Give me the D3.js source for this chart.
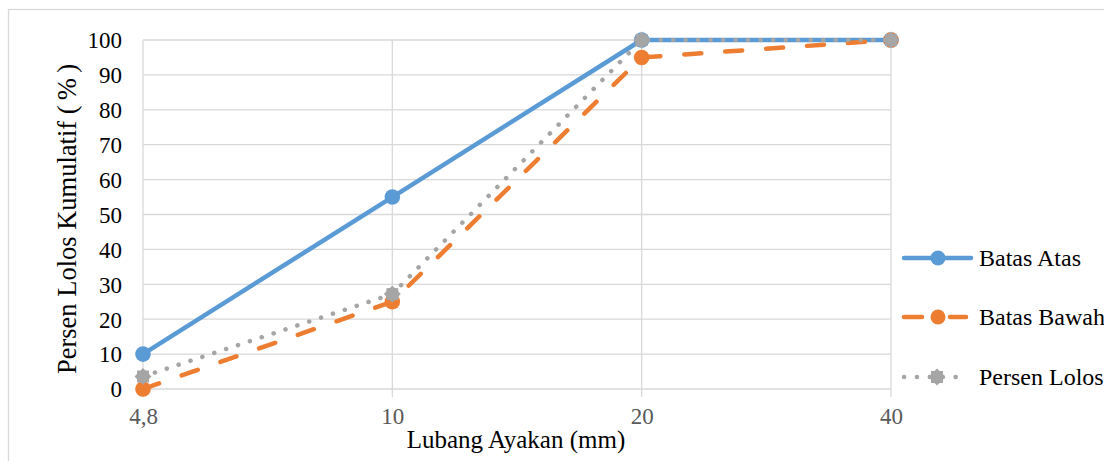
<!DOCTYPE html>
<html><head><meta charset="utf-8">
<script src="https://cdn.jsdelivr.net/npm/d3@7"></script>
<style>body{margin:0;background:#fff}svg{display:block}svg text{font-family:'Liberation Serif','Times New Roman','DejaVu Serif',serif !important}</style>
</head><body><svg id="c" width="1104" height="461"></svg>
<script>
const categories = ["4,8", "10", "20", "40"];
const batasAtas = [10, 55, 100, 100];
const batasBawah = [0, 25, 95, 100];
const persenLolos = [3.6, 27.2, 100, 100];
const yTicks = [0,10,20,30,40,50,60,70,80,90,100];
const seriesNames = ["Batas Atas", "Batas Bawah", "Persen Lolos"];

const svg = d3.select("#c");
svg.append("rect").attr("x",8.5).attr("y",9.5).attr("width",1200).attr("height",600)
  .attr("fill","#fff").attr("stroke","#d9d9d9").attr("stroke-width",1.3);

const x = d3.scalePoint().domain(categories).range([143, 891]);
const y = d3.scaleLinear().domain([0,100]).range([389, 40]);

const g = svg.append("g");
g.selectAll("line.h").data(yTicks).join("line")
  .attr("x1",143).attr("x2",891).attr("y1",d=>y(d)).attr("y2",d=>y(d))
  .attr("stroke","#d9d9d9").attr("stroke-width",1.3);
g.selectAll("line.v").data(categories).join("line")
  .attr("x1",d=>x(d)).attr("x2",d=>x(d)).attr("y1",y(100)).attr("y2",y(0)+8)
  .attr("stroke","#d9d9d9").attr("stroke-width",1.3);

const yAxis = d3.axisLeft(y).tickValues(yTicks).tickSize(0).tickPadding(0);
const ya = svg.append("g").attr("transform","translate(122,0)").call(yAxis);
ya.select(".domain").remove();
ya.selectAll("text").attr("font-size",23).attr("fill","#000").attr("dy","0.34em");

const xAxis = d3.axisBottom(x).tickSize(0).tickPadding(0);
const xa = svg.append("g").attr("transform","translate(0,424)").call(xAxis);
xa.select(".domain").remove();
xa.selectAll("text").attr("font-size",23).attr("fill","#595959").attr("y",0).attr("dy","0");

svg.append("text").attr("x",516).attr("y",448).attr("text-anchor","middle")
  .attr("font-size",25).attr("fill","#000").text("Lubang Ayakan (mm)");
svg.append("text").attr("transform","translate(76,219) rotate(-90)").attr("text-anchor","middle")
  .attr("font-size",26.5).attr("fill","#000").text("Persen Lolos Kumulatif (\u2009%\u2009)");

const line = d3.line().x((d,i)=>x(categories[i])).y(d=>y(d));
const styles = [
  {data: batasAtas, color:"#5b9bd5", dash:null},
  {data: batasBawah, color:"#ed7d31", dash:"17,24"},
  {data: persenLolos, color:"#a5a5a5", dash:"0.1,12.4"}
];
function gear(sel, cx, cy, r, color){
  const pts=[];
  const n=16;
  for(let i=0;i<n;i++){
    const a=i/n*2*Math.PI;
    const rr = i%2? r*0.82 : r*1.05;
    pts.push([cx+rr*Math.cos(a), cy+rr*Math.sin(a)]);
  }
  sel.append("polygon").attr("points",pts.map(p=>p.join(",")).join(" ")).attr("fill",color);
}
styles.forEach(s=>{
  svg.append("path").datum(s.data).attr("d",line).attr("fill","none")
    .attr("stroke",s.color).attr("stroke-width",4.5).attr("stroke-linecap","round")
    .attr("stroke-linejoin","round").attr("stroke-dasharray",s.dash);
  s.data.forEach((v,i)=>{
    if(s.color==="#a5a5a5") gear(svg, x(categories[i]), y(v), 8, s.color);
    else svg.append("circle").attr("cx",x(categories[i])).attr("cy",y(v)).attr("r",7.8).attr("fill",s.color);
  });
});

const ly = [258, 317, 377];
styles.forEach((s,i)=>{
  const lg = svg.append("g");
  if(i===0){
    lg.append("line").attr("x1",904).attr("x2",971).attr("y1",ly[i]).attr("y2",ly[i])
      .attr("stroke",s.color).attr("stroke-width",4.5).attr("stroke-linecap","round");
  } else if(i===1){
    [[904,922],[950,966]].forEach(p=>lg.append("line").attr("x1",p[0]).attr("x2",p[1]).attr("y1",ly[i]).attr("y2",ly[i])
      .attr("stroke",s.color).attr("stroke-width",4.5).attr("stroke-linecap","round"));
  } else {
    lg.append("line").attr("x1",904).attr("x2",968).attr("y1",ly[i]).attr("y2",ly[i])
      .attr("stroke",s.color).attr("stroke-width",4.5).attr("stroke-linecap","round").attr("stroke-dasharray","0.1,12.8");
  }
  if(i===2) gear(lg, 937, ly[i], 8, s.color);
  else lg.append("circle").attr("cx",938).attr("cy",ly[i]).attr("r",7.5).attr("fill",s.color);
  lg.append("text").attr("x",979).attr("y",ly[i]).attr("dy","0.34em").attr("font-size",24)
    .attr("fill","#000").text(seriesNames[i]);
});
</script></body></html>
